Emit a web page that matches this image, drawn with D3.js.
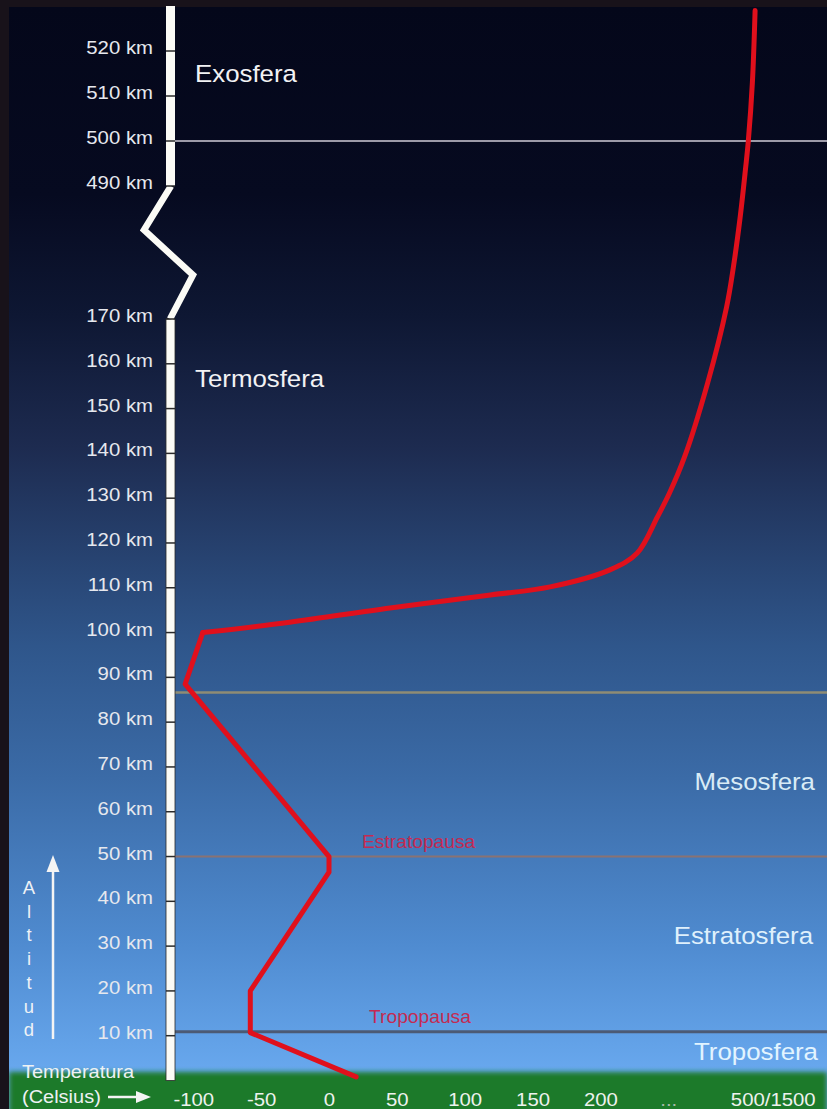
<!DOCTYPE html>
<html><head><meta charset="utf-8">
<script src="https://cdn.jsdelivr.net/npm/d3@7/dist/d3.min.js"></script>
<style>
html,body{margin:0;padding:0;background:#18121a;}
svg{display:block;}
text{font-family:"Liberation Sans",Arial,sans-serif;}
</style></head>
<body>
<svg id="c" width="827" height="1109"></svg>
<script>
// ---------- data ----------
const altTicksLow = [10,20,30,40,50,60,70,80,90,100,110,120,130,140,150,160,170];
const altTicksHigh = [490,500,510,520];
const tempTicks = [-100,-50,0,50,100,150,200,250,327];
const tempTickLabels = ["-100","-50","0","50","100","150","200","...","500/1500"];
// temperature profile (°C on the chart's own scale) vs altitude (km)
const lowTemp = [20,-58,-58,0,0,-106,-93];
const lowAlt  = [0.8,10.7,20,46.5,50,88.5,100];
const highTemp = [-93,-29,45,119,163,207,227,242,251,262,279,293,298,303,307,309,312,314];
const highAlt  = [100,102.3,105.5,108.4,110.2,114,117.7,125.8,131.2,139.2,155.7,199,295,415,494,500,513,529];
const layerNames = ["Exosfera","Termosfera","Mesosfera","Estratosfera","Troposfera"];
const pauseNames = ["Estratopausa","Tropopausa"];
const boundaryAlts = [500, 86.6, 50, 10.9];

// ---------- scales ----------
const W = 827, H = 1109;
const svg = d3.select("#c");
const y = d3.scaleLinear().domain([0,170,490,530]).range([1080.5,319,186,6]);
const x = d3.scaleLinear().domain([0,200]).range([329,600.4]);

// ---------- background ----------
const defs = svg.append("defs");
const g = defs.append("linearGradient").attr("id","sky").attr("x1",0).attr("y1",0).attr("x2",0).attr("y2",1);
[[0,"#04071a"],[0.17,"#060a20"],[0.28,"#0e1733"],[0.4,"#1d2b50"],[0.58,"#2f568b"],[0.7,"#3b6ba7"],[0.85,"#4f8bd0"],[0.97,"#69a9ef"]]
  .forEach(s=>g.append("stop").attr("offset",s[0]).attr("stop-color",s[1]));
const blur = defs.append("filter").attr("id","blur").attr("x","-5%").attr("y","-50%").attr("width","110%").attr("height","200%");
blur.append("feGaussianBlur").attr("stdDeviation",2.5);

svg.append("rect").attr("x",0).attr("y",0).attr("width",W).attr("height",H).attr("fill","#18121a");
svg.append("rect").attr("x",9).attr("y",7).attr("width",W-9).attr("height",H-7).attr("fill","url(#sky)");
// ground
svg.append("rect").attr("x",9).attr("y",1072).attr("width",W-9).attr("height",50)
  .attr("fill","#1d7a29").attr("filter","url(#blur)");
svg.append("rect").attr("x",0).attr("y",0).attr("width",9).attr("height",H).attr("fill","#18121a");

// ---------- boundary lines ----------
const lineColors = ["#9c9aa8","#8f8c74","#8a7272","#4c5a74"];
const lineWidths = [2,2.5,2,3];
svg.selectAll("line.bound").data(boundaryAlts).join("line").attr("class","bound")
  .attr("x1",175).attr("x2",W).attr("y1",d=>y(d)).attr("y2",d=>y(d))
  .attr("stroke",(d,i)=>lineColors[i]).attr("stroke-width",(d,i)=>lineWidths[i]);

// ---------- altitude axis bar ----------
const barX = 166, barW = 9;
svg.append("rect").attr("x",barX).attr("y",y(530)).attr("width",barW).attr("height",y(490)-y(530)).attr("fill","#fbfbf6");
svg.append("rect").attr("x",barX).attr("y",y(170)).attr("width",barW).attr("height",y(0)-y(170))
  .attr("fill","#fbfbf6").attr("stroke","#2a2a2a").attr("stroke-width",0.8);
svg.append("polyline").attr("points",[[171,y(490)],[144,y(490)+44],[193,y(490)+89],[170,y(170)]].map(p=>p.join(",")).join(" "))
  .attr("fill","none").attr("stroke","#fbfbf6").attr("stroke-width",6.5).attr("stroke-linejoin","miter");

const allAlt = altTicksLow.concat(altTicksHigh);
svg.selectAll("line.tk").data(allAlt).join("line").attr("class","tk")
  .attr("x1",barX).attr("x2",barX+barW).attr("y1",d=>y(d)).attr("y2",d=>y(d))
  .attr("stroke","#2a2a2a").attr("stroke-width",1.5);

const yAxis = d3.axisLeft(y).tickValues(allAlt).tickFormat(d=>d+" km").tickSize(0).tickPadding(0);
const ya = svg.append("g").attr("transform","translate(153,0)").call(yAxis);
ya.select(".domain").remove();
ya.selectAll("text").attr("fill","#e6e8ee").attr("font-size","18.5px").attr("dy","0.14em")
  .attr("transform","scale(1.1,1)").style("font-family","'Liberation Sans',Arial,sans-serif");

// ---------- temperature axis ----------
const xAxis = d3.axisBottom(x).tickValues(tempTicks).tickFormat((d,i)=>tempTickLabels[i]).tickSize(0).tickPadding(0);
const xa = svg.append("g").attr("transform","translate(0,1106)").call(xAxis);
xa.select(".domain").remove();
xa.selectAll("text").attr("y",0).attr("dy",0).attr("x",0).attr("font-size","18.5px")
  .attr("fill",(d,i)=>tempTickLabels[i]==="..."?"#a8b8a8":"#eef2ee")
  .attr("transform","scale(1.1,1)").style("font-family","'Liberation Sans',Arial,sans-serif");

svg.append("text").attr("x",22).attr("y",1078).attr("font-size","18.5px").attr("fill","#eef2f4")
  .attr("transform","translate(22,1078) scale(1.08,1) translate(-22,-1078)").text("Temperatura");
svg.append("text").attr("x",22).attr("y",1103).attr("font-size","18.5px").attr("fill","#eef2f4")
  .attr("transform","translate(22,1103) scale(1.08,1) translate(-22,-1103)").text("(Celsius)");
// arrow right
svg.append("line").attr("x1",108).attr("x2",140).attr("y1",1097).attr("y2",1097).attr("stroke","#f4f4f4").attr("stroke-width",2.5);
svg.append("path").attr("d","M136,1091 L151,1097 L136,1103 Z").attr("fill","#f4f4f4");

// Altitud vertical label and arrow
const altWord = "Altitud".split("");
svg.selectAll("text.alt").data(altWord).join("text").attr("class","alt")
  .attr("x",29).attr("y",(d,i)=>894+i*23.7).attr("text-anchor","middle")
  .attr("font-size","18.5px").attr("fill","#eef2f6").text(d=>d);
svg.append("line").attr("x1",53).attr("x2",53).attr("y1",1039).attr("y2",868).attr("stroke","#f4f4f4").attr("stroke-width",2.5);
svg.append("path").attr("d","M46.5,872 L53,855 L59.5,872 Z").attr("fill","#f4f4f4");

// ---------- layer labels ----------
function label(txt,xp,yp,anchor,size,color){
  svg.append("text").attr("x",0).attr("y",0).attr("text-anchor",anchor)
    .attr("transform",`translate(${xp},${yp}) scale(1.1,1)`)
    .attr("font-size",size).attr("fill",color).text(txt);
}
label(layerNames[0],195,82,"start","23.5px","#f2f2f4");
label(layerNames[1],195,387,"start","23.5px","#f2f2f4");
label(layerNames[2],815,790,"end","23.5px","#d8ebf6");
label(layerNames[3],813,944,"end","23.5px","#dff0fc");
label(layerNames[4],818,1060,"end","23.5px","#e2f4ff");
label(pauseNames[0],362,848,"start","17.5px","#c42a52");
label(pauseNames[1],369,1023,"start","17.5px","#c42a52");

// ---------- temperature profile ----------
const lowPts = lowTemp.map((t,i)=>[t,lowAlt[i]]);
const highPts = highTemp.map((t,i)=>[t,highAlt[i]]);
const lineLow = d3.line().x(d=>x(d[0])).y(d=>y(d[1])).curve(d3.curveLinear);
const lineHigh = d3.line().x(d=>x(d[0])).y(d=>y(d[1])).curve(d3.curveCatmullRom.alpha(0.5));
[lineLow(lowPts), lineHigh(highPts)].forEach(dp=>
  svg.append("path").attr("d",dp).attr("fill","none").attr("stroke","#e0101c")
    .attr("stroke-width",5).attr("stroke-linejoin","round").attr("stroke-linecap","round"));
</script>
</body></html>
